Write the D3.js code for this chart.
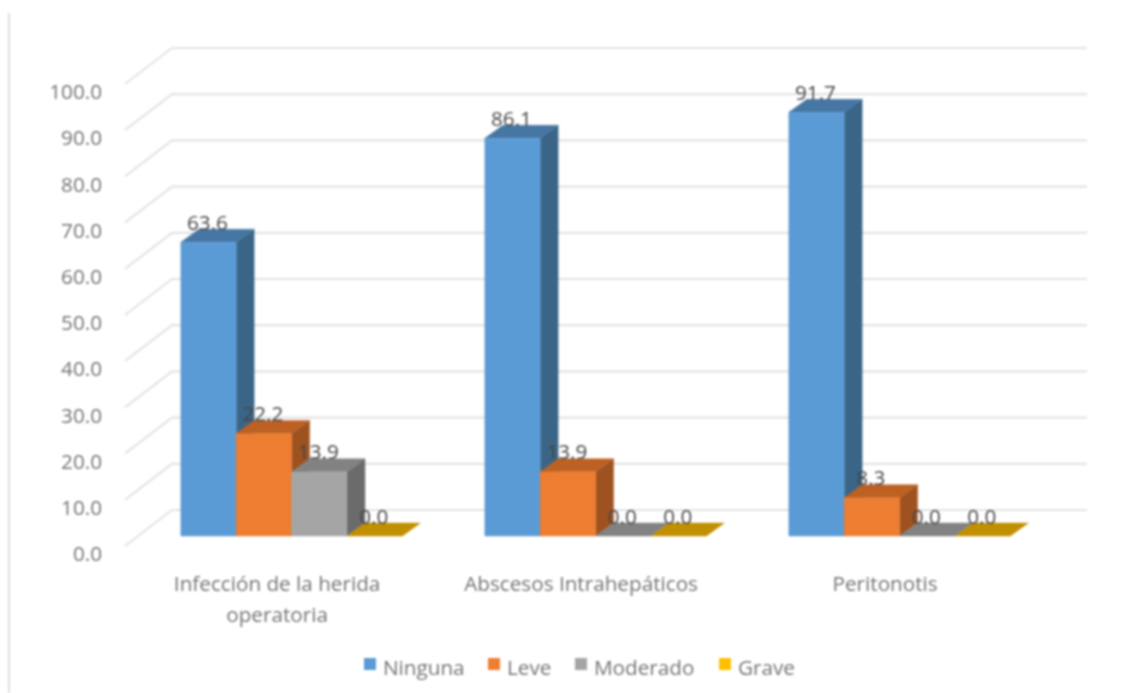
<!DOCTYPE html>
<html><head><meta charset="utf-8">
<script src="https://cdn.jsdelivr.net/npm/d3@7"></script>
<style>
html,body{margin:0;padding:0;background:#fff;overflow:hidden}
svg{display:block;filter:blur(0.8px)}
text{font-family:"Open Sans",sans-serif}
</style></head><body>
<svg id="c" width="1126" height="693"></svg>
<script>
const categories = ["Infección de la herida|operatoria", "Abscesos Intrahepáticos", "Peritonotis"];
const seriesNames = ["Ninguna", "Leve", "Moderado", "Grave"];
const ninguna = [63.6, 86.1, 91.7];
const leve = [22.2, 13.9, 8.3];
const moderado = [13.9, 0.0, 0.0];
const grave = [0.0, 0.0, 0.0];
const tickValues = [0,10,20,30,40,50,60,70,80,90,100];
const frontColors = ["#5b9bd5","#ed7d31","#a5a5a5","#ffc000"];
const topColors = ["#4676a3","#bd6122","#828282","#c09000"];
const sideColors = ["#3a6587","#9e5220","#6b6b6b","#997300"];
const allSeries = [ninguna, leve, moderado, grave];

const svg = d3.select("#c");
const y = d3.scaleLinear().domain([0,100]).range([546,84]);
const x0 = d3.scaleBand().domain(categories).range([139.6,1051.6]);
const groupW = 221.6;
const x1 = d3.scaleBand().domain(seriesNames).range([0,groupW]);
const wallDx = 47, wallDy = -36;
const barDx = 18, barDy = -13;
const baseShift = -10;
const wallRight = 1087;
const fontPx = "20.7px";

svg.append("line").attr("x1",9).attr("x2",9).attr("y1",13).attr("y2",693)
   .attr("stroke","#d6d6d6").attr("stroke-width",1.6);

const grid = svg.append("g").attr("fill","none").attr("stroke","#e4e4e4").attr("stroke-width",2.2);
grid.selectAll("path").data(tickValues).join("path")
  .attr("d", d=>{const p=d3.path();p.moveTo(125,y(d));p.lineTo(125+wallDx,y(d)+wallDy);p.lineTo(wallRight,y(d)+wallDy);return p.toString();});

const axis = d3.axisLeft(y).tickValues(tickValues).tickSize(0).tickPadding(0).tickFormat(d3.format(".1f"));
const ag = svg.append("g").attr("transform","translate(102,8)").call(axis);
ag.select(".domain").remove();
ag.selectAll("text").attr("fill","#747474").style("font-size",fontPx).style("font-family",'"Open Sans",sans-serif');

const bars = [];
categories.forEach((c,ci)=>seriesNames.forEach((s,si)=>{
  const bx = x0(c)+x0.bandwidth()/2-groupW/2+x1(s);
  bars.push({bx,si,v:allSeries[si][ci]});
}));
const w = x1.bandwidth();
const bg = svg.append("g");
bars.forEach(b=>{
  const yb = y(0)+baseShift, yt = y(b.v)+baseShift, l=b.bx, r=b.bx+w;
  const poly=(pts,f)=>bg.append("polygon").attr("points",pts.map(p=>p.join(",")).join(" ")).attr("fill",f).attr("stroke",f).attr("stroke-width",0.4);
  if(b.v>0) poly([[r,yb],[r+barDx,yb+barDy],[r+barDx,yt+barDy],[r,yt]],sideColors[b.si]);
  poly([[l,yt],[l+barDx,yt+barDy],[r+barDx,yt+barDy],[r,yt]],topColors[b.si]);
  if(b.v>0) poly([[l,yt],[r,yt],[r,yb],[l,yb]],frontColors[b.si]);
});
svg.append("g").selectAll("text").data(bars).join("text")
  .attr("x",d=>d.bx+w/2-1).attr("y",d=>y(d.v)+baseShift-12.5)
  .attr("text-anchor","middle").attr("fill","#474747").style("font-size",fontPx)
  .text(d=>d3.format(".1f")(d.v));

const catG = svg.append("g").attr("fill","#747474").style("font-size",fontPx).attr("text-anchor","middle");
categories.forEach(c=>{
  c.split("|").forEach((t,i)=>catG.append("text")
    .attr("x",x0(c)+x0.bandwidth()/2-14.5).attr("y",591+i*31).text(t));
});

const legendX = d3.scaleOrdinal().domain(seriesNames).range([364,488,575,719]);
const lg = svg.append("g");
seriesNames.forEach((s,i)=>{
  lg.append("rect").attr("x",legendX(s)).attr("y",658).attr("width",12).attr("height",12).attr("fill",frontColors[i]);
  lg.append("text").attr("x",legendX(s)+19).attr("y",675).attr("fill","#747474").style("font-size",fontPx).text(s);
});
</script>
</body></html>
